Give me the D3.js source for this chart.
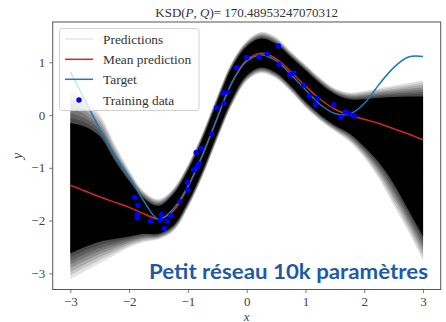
<!DOCTYPE html>
<html>
<head>
<meta charset="utf-8">
<script src="https://cdn.jsdelivr.net/npm/d3@7"></script>
<style>
  html, body { margin: 0; padding: 0; background: #fff; }
  svg { display: block; }
</style>
</head>
<body>
<svg id="chart" width="446" height="322"></svg>
<script>
// ---------- data ----------
const xGrid = [-3, -2.75, -2.5, -2.25, -2, -1.75, -1.5, -1.25, -1, -0.75, -0.5, -0.25, 0, 0.25, 0.5, 0.75, 1, 1.25, 1.5, 1.75, 2, 2.25, 2.5, 2.75, 3];
const meanPrediction = [-1.33, -1.44, -1.55, -1.65, -1.75, -1.87, -1.97, -1.82, -1.36, -0.76, -0.06, 0.62, 1.04, 1.17, 1.07, 0.82, 0.55, 0.30, 0.11, 0.00, -0.08, -0.16, -0.26, -0.36, -0.47];
const targetValues = [0.82, 0.28, -0.26, -0.74, -1.17, -1.63, -1.98, -1.78, -1.35, -0.75, -0.05, 0.62, 1.02, 1.14, 1.03, 0.77, 0.48, 0.20, 0.03, 0.02, 0.22, 0.58, 0.90, 1.10, 1.11];
// spread of the prediction curves: dense core and faint outer fringe
const coreLow   = [-2.62, -2.5, -2.4, -2.35, -2.3, -2.25, -2.25, -2.1, -1.65, -1.05, -0.35, 0.30, 0.75, 0.90, 0.80, 0.55, 0.25, 0.00, -0.20, -0.35, -0.60, -0.90, -1.30, -1.80, -2.30];
const coreHigh  = [-0.15, -0.22, -0.4, -0.85, -1.25, -1.58, -1.72, -1.5, -1.05, -0.45, 0.25, 0.90, 1.30, 1.45, 1.35, 1.10, 0.85, 0.60, 0.40, 0.30, 0.30, 0.33, 0.34, 0.35, 0.35];
const outerLow  = [-3.1, -2.95, -2.8, -2.65, -2.5, -2.4, -2.35, -2.2, -1.75, -1.15, -0.45, 0.20, 0.65, 0.80, 0.70, 0.45, 0.15, -0.10, -0.30, -0.50, -0.80, -1.20, -1.70, -2.20, -2.75];
const outerHigh = [0.5, 0.3, 0.0, -0.55, -1.05, -1.45, -1.6, -1.4, -0.95, -0.35, 0.35, 1.00, 1.40, 1.57, 1.47, 1.20, 0.95, 0.70, 0.50, 0.42, 0.45, 0.50, 0.55, 0.60, 0.65];

const trainX = [-1.91, -1.85, -1.86, -1.86, -1.64, -1.45, -1.47, -1.35, -1.29, -1.40, -1.14, -1.01, -1.00, -0.90, -0.84, -0.82, -0.86, -0.77, -0.60,
                -0.51, -0.39, -0.40, -0.32, -0.17, 0.00, 0.21, 0.35, 0.54, 0.55, 0.73, 0.80, 0.97, 1.06, 1.20, 1.17, 1.48, 1.60, 1.68, 1.74, 1.83];
const trainY = [-1.56, -1.71, -1.88, -1.95, -2.01, -1.89, -1.99, -2.01, -1.91, -2.15, -1.64, -1.28, -1.42, -1.04, -0.98, -0.92, -0.71, -0.63, -0.36,
                0.14, 0.22, 0.42, 0.44, 0.90, 1.09, 1.09, 1.16, 1.31, 0.96, 0.76, 0.80, 0.57, 0.36, 0.32, 0.19, 0.19, -0.04, 0.06, 0.03, -0.02];

const xTicks = [-3, -2, -1, 0, 1, 2, 3];
const yTicks = [-3, -2, -1, 0, 1];
const legendLabels = ["Predictions", "Mean prediction", "Target", "Training data"];
const titleValue = "170.48953247070312";
const captionText = "Petit réseau 10k paramètres";

// ---------- layout ----------
const svg = d3.select("#chart");
const plot = { left: 52.7, right: 440.7, top: 22, bottom: 289.5 };
const x = d3.scaleLinear().domain([-3.3, 3.3]).range([plot.left, plot.right]);
const y = d3.scaleLinear().domain([-3.307, 1.764]).range([plot.bottom, plot.top]);

const serif = "'Liberation Serif', 'DejaVu Serif', serif";
const idx = d3.range(xGrid.length);
const curve = d3.curveCatmullRom.alpha(0.5);

svg.append("defs").append("clipPath").attr("id", "clip")
  .append("rect").attr("x", plot.left).attr("y", plot.top)
  .attr("width", plot.right - plot.left).attr("height", plot.bottom - plot.top);

const g = svg.append("g").attr("clip-path", "url(#clip)");

// predictions: soft layered fringe fading into a solid core
const areaOf = (lo, hi) => d3.area().curve(curve)
  .x(i => x(xGrid[i])).y0(i => y(lo[i])).y1(i => y(hi[i]));
const nLayers = 7;
d3.range(nLayers).forEach(k => {
  const t = k / nLayers; // 0 = outer edge, toward core
  const lo = idx.map(i => outerLow[i] + (coreLow[i] - outerLow[i]) * t);
  const hi = idx.map(i => outerHigh[i] + (coreHigh[i] - outerHigh[i]) * t);
  g.append("path").attr("d", areaOf(lo, hi)(idx))
    .attr("fill", "#000").attr("fill-opacity", 0.1 + 0.02 * k);
  g.append("path").attr("d", d3.line().curve(curve).x(i => x(xGrid[i])).y(i => y(lo[i]))(idx))
    .attr("fill", "none").attr("stroke", "#000").attr("stroke-opacity", 0.12).attr("stroke-width", 0.6);
  g.append("path").attr("d", d3.line().curve(curve).x(i => x(xGrid[i])).y(i => y(hi[i]))(idx))
    .attr("fill", "none").attr("stroke", "#000").attr("stroke-opacity", 0.12).attr("stroke-width", 0.6);
});
g.append("path").attr("d", areaOf(coreLow, coreHigh)(idx)).attr("fill", "#000");

const lineOf = arr => d3.line().curve(curve).x(i => x(xGrid[i])).y(i => y(arr[i]));
g.append("path").attr("d", lineOf(meanPrediction)(idx))
  .attr("fill", "none").attr("stroke", "#d62728").attr("stroke-width", 1.5);
g.append("path").attr("d", lineOf(targetValues)(idx))
  .attr("fill", "none").attr("stroke", "#1f77b4").attr("stroke-width", 1.5);

g.selectAll("circle.train").data(trainX).enter().append("circle")
  .attr("class", "train")
  .attr("cx", (d) => x(d)).attr("cy", (d, i) => y(trainY[i]))
  .attr("r", 2.7).attr("fill", "#0000ff");

// ---------- axes ----------
const axisColor = "#555";
const xAxis = svg.append("g").attr("transform", `translate(0,${plot.bottom})`)
  .call(d3.axisBottom(x).tickValues(xTicks).tickSize(3.5).tickPadding(3.5)
    .tickFormat(d => d < 0 ? "\u2212" + Math.abs(d) : d));
const yAxis = svg.append("g").attr("transform", `translate(${plot.left},0)`)
  .call(d3.axisLeft(y).tickValues(yTicks).tickSize(3.5).tickPadding(4)
    .tickFormat(d => d < 0 ? "\u2212" + Math.abs(d) : d));
[xAxis, yAxis].forEach(a => {
  a.select(".domain").remove();
  a.selectAll("line").attr("stroke", axisColor).attr("stroke-width", 0.8);
  a.selectAll("text").attr("font-family", serif).attr("font-size", 13).attr("fill", "#444");
});

svg.append("rect").attr("x", plot.left).attr("y", plot.top)
  .attr("width", plot.right - plot.left).attr("height", plot.bottom - plot.top)
  .attr("fill", "none").attr("stroke", axisColor).attr("stroke-width", 1);

svg.append("text").attr("x", (plot.left + plot.right) / 2).attr("y", 320.5)
  .attr("text-anchor", "middle").attr("font-family", serif).attr("font-style", "italic")
  .attr("font-size", 13).attr("fill", "#444").text("x");
svg.append("text").attr("transform", "translate(22,156) rotate(-90)")
  .attr("text-anchor", "middle").attr("font-family", serif).attr("font-style", "italic")
  .attr("font-size", 14).attr("fill", "#444").text("y");

// title
const title = svg.append("text").attr("x", (plot.left + plot.right) / 2).attr("y", 17)
  .attr("text-anchor", "middle").attr("font-family", serif).attr("font-size", 13).attr("fill", "#333");
title.append("tspan").text("KSD(");
title.append("tspan").attr("font-style", "italic").text("P");
title.append("tspan").text(", ");
title.append("tspan").attr("font-style", "italic").text("Q");
title.append("tspan").text(")= " + titleValue);

// ---------- legend ----------
const lg = svg.append("g");
lg.append("rect").attr("x", 59.5).attr("y", 28.5).attr("width", 139.5).attr("height", 82).attr("rx", 3)
  .attr("fill", "#fff").attr("fill-opacity", 0.8).attr("stroke", "#d0d0d0").attr("stroke-width", 1);
const rowY = [39, 59.3, 79.3, 100];
legendLabels.forEach((lab, i) => {
  const yy = rowY[i];
  if (i === 0) lg.append("line").attr("x1", 65).attr("x2", 93).attr("y1", yy).attr("y2", yy).attr("stroke", "#e0e0e0").attr("stroke-width", 1.2);
  if (i === 1) lg.append("line").attr("x1", 65).attr("x2", 93).attr("y1", yy).attr("y2", yy).attr("stroke", "#d62728").attr("stroke-width", 1.5);
  if (i === 2) lg.append("line").attr("x1", 65).attr("x2", 93).attr("y1", yy).attr("y2", yy).attr("stroke", "#1f77b4").attr("stroke-width", 1.5);
  if (i === 3) lg.append("circle").attr("cx", 79).attr("cy", yy).attr("r", 2.7).attr("fill", "#0000ff");
  lg.append("text").attr("x", 103).attr("y", yy + 4.5).attr("font-family", serif).attr("font-size", 13.4)
    .attr("fill", "#333").text(lab);
});

// ---------- caption ----------
svg.append("text").attr("x", 149).attr("y", 278.5)
  .attr("font-family", "Lato, 'Open Sans', sans-serif").attr("font-weight", "bold").attr("font-size", 21)
  .attr("textLength", 279).attr("lengthAdjust", "spacingAndGlyphs")
  .attr("fill", "#1f5aa6").text(captionText);
</script>
</body>
</html>
